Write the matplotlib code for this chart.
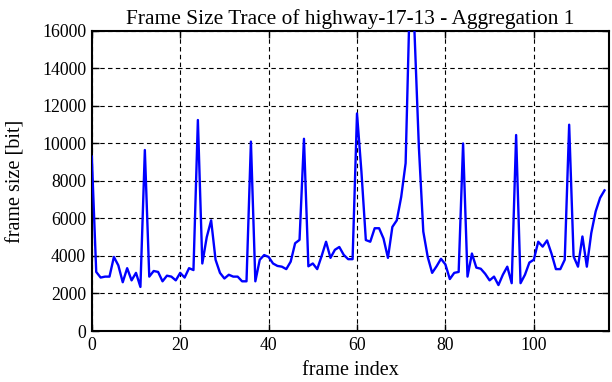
import matplotlib
matplotlib.use('Agg')
import matplotlib.pyplot as plt

# frame sizes in bit, one value per frame
frame_size = [
    9300, 3150, 2850, 2900, 2900, 3950, 3500, 2600, 3350, 2700, 3100, 2350,
    9650, 2900, 3200, 3150, 2650, 2950, 2900, 2700, 3100, 2850, 3350, 3250,
    11250, 3600, 5000, 5900, 3800, 3100, 2800, 3000, 2900, 2900, 2650, 2650,
    10100, 2650, 3800, 4050, 3950, 3600, 3470, 3430, 3300, 3700, 4680, 4860,
    10250, 3450, 3600, 3300, 4000, 4760, 3900, 4330, 4480, 4060, 3830, 3830,
    11600, 8500, 4850, 4760, 5480, 5480, 4930, 3900, 5550, 5900, 7150, 8950,
    18350, 16000, 9800, 5300, 3950, 3100, 3450, 3850, 3550, 2770, 3100, 3150,
    10000, 2900, 4130, 3380, 3320, 3050, 2700, 2900, 2450, 3000, 3430, 2550,
    10450, 2550, 3000, 3650, 3800, 4760, 4500, 4830, 4130, 3300, 3300, 3800,
    11000, 3980, 3430, 5040, 3430, 5220, 6380, 7100, 7500,
]
frame_index = list(range(len(frame_size)))

x_ticks = [0, 20, 40, 60, 80, 100]
y_ticks = [0, 2000, 4000, 6000, 8000, 10000, 12000, 14000, 16000]

plt.rcParams['font.family'] = ['Liberation Serif', 'DejaVu Serif']
plt.rcParams['font.size'] = 12.8

fig = plt.figure(figsize=(6.12, 3.82), dpi=100)
ax = fig.add_axes([0.150, 0.1335, 0.845, 0.7855])

ax.plot(frame_index, frame_size, color='#0000ff', linewidth=1.7, zorder=3)

ax.set_xlim(0, 117)
ax.set_ylim(0, 16000)
ax.set_xticks(x_ticks)
ax.set_yticks(y_ticks)

ax.grid(True, color='black', linestyle=(0, (4, 3)), linewidth=0.8)
ax.tick_params(direction='in', length=5, width=1, top=True, right=True,
               pad=4)
for s in ax.spines.values():
    s.set_linewidth(1.5)

ax.set_xlabel('frame index', fontsize=14.5, labelpad=5)
ax.set_ylabel('frame size [bit]', fontsize=14.5, labelpad=12)
ax.set_title('Frame Size Trace of highway-17-13 - Aggregation 1',
             fontsize=15.4, pad=5)

fig.savefig('out.png', dpi=100)
